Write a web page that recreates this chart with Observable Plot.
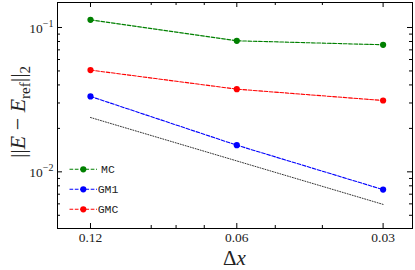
<!DOCTYPE html>
<html><head><meta charset="utf-8">
<script src="https://cdn.jsdelivr.net/npm/d3@7"></script>
<script src="https://cdn.jsdelivr.net/npm/@observablehq/plot@0.6"></script>
<style>body{margin:0;background:#fff} #chart{position:relative;width:415px;height:270px}</style>
</head><body><div id="chart"></div>
<script>
const dxValues = [0.12, 0.06, 0.03];
const mcErr = [0.113, 0.0809, 0.0759];
const gm1Err = [0.0333, 0.0153, 0.00753];
const gmcErr = [0.0507, 0.0374, 0.0312];
const refDx = [0.12, 0.03];
const refErr = [0.0238, 0.00595];
const seriesNames = ["MC", "GM1", "GMC"];
const seriesColors = ["#008000", "#0000ff", "#ff0000"];
const xMajorTicks = [0.12, 0.06, 0.03];
const xTickLabels = ["0.12", "0.06", "0.03"];
const xMinorTicks = [0.09, 0.08, 0.07, 0.05, 0.04];
const yMajorTicks = [0.01, 0.1];
const yTickExponents = ["\u22122", "\u22121"];
const yMinorTicks = [0.005, 0.006, 0.007, 0.008, 0.009, 0.02, 0.03, 0.04, 0.05, 0.06, 0.07, 0.08, 0.09];

const W = 415, H = 270, mL = 57, mR = 3, mT = 2, mB = 42;
const pw = W - mL - mR, ph = H - mT - mB;
const maj = 5, mnr = 3;

const rows = [];
[mcErr, gm1Err, gmcErr].forEach((arr, i) =>
  arr.forEach((v, j) => rows.push({series: seriesNames[i], dx: dxValues[j], err: v})));
const refRows = refDx.map((d, i) => ({dx: d, err: refErr[i]}));

const serif = "Liberation Serif";
const plot = Plot.plot({
  width: W, height: H,
  marginLeft: mL, marginRight: mR, marginTop: mT, marginBottom: mB,
  style: {fontFamily: serif, fontSize: "13.5px", color: "#222", background: "white"},
  x: {type: "log", domain: [0.1403, 0.0261], axis: null},
  y: {type: "log", domain: [0.00405, 0.149], axis: null},
  color: {domain: seriesNames, range: seriesColors},
  marks: [
    Plot.line(refRows, {x: "dx", y: "err", stroke: "black", strokeWidth: 0.8, strokeDasharray: "1,1.6"}),
    Plot.line(rows, {x: "dx", y: "err", z: "series", stroke: "series", strokeWidth: 1.1, strokeDasharray: "3.7,1.6"}),
    Plot.dot(rows, {x: "dx", y: "err", fill: "series", r: 3.1}),
    Plot.tickY(yMajorTicks, {y: d => d, insetRight: pw - maj, stroke: "black"}),
    Plot.tickY(yMajorTicks, {y: d => d, insetLeft: pw - maj, stroke: "black"}),
    Plot.tickY(yMinorTicks, {y: d => d, insetRight: pw - mnr, stroke: "black"}),
    Plot.tickY(yMinorTicks, {y: d => d, insetLeft: pw - mnr, stroke: "black"}),
    Plot.tickX(xMajorTicks, {x: d => d, insetTop: ph - maj, stroke: "black"}),
    Plot.tickX(xMajorTicks, {x: d => d, insetBottom: ph - maj, stroke: "black"}),
    Plot.tickX(xMinorTicks, {x: d => d, insetTop: ph - mnr, stroke: "black"}),
    Plot.tickX(xMinorTicks, {x: d => d, insetBottom: ph - mnr, stroke: "black"}),
    Plot.text(yMajorTicks, {y: d => d, frameAnchor: "left", textAnchor: "end", dx: -4, dy: 1,
      text: (d, i) => "10|" + yTickExponents[i], fontFamily: serif, fontSize: 13.5, fill: "#222"}),
    Plot.text(xMajorTicks, {x: d => d, frameAnchor: "bottom", lineAnchor: "top", dy: 4,
      text: (d, i) => xTickLabels[i], fontFamily: serif, fontSize: 13.5, fill: "#222"}),
    Plot.frame({stroke: "black", strokeWidth: 1})
  ]
});
document.getElementById("chart").appendChild(plot);

const svg = d3.select(plot);
// superscript exponents on y tick labels
svg.selectAll("text").each(function() {
  const t = d3.select(this);
  const s = t.text();
  if (!s.startsWith("10|")) return;
  const [base, exp] = s.split("|");
  t.text(null);
  t.append("tspan").text(base);
  t.append("tspan").attr("dy", "-6").attr("font-size", "10").text(exp);
});

// y axis label
const yl = svg.append("text")
  .attr("transform", `translate(25, ${mT + ph / 2 - 3}) rotate(-90)`)
  .attr("text-anchor", "middle").attr("fill", "#222")
  .style("font-family", serif).style("font-size", "22px");
yl.append("tspan").text("||");
yl.append("tspan").attr("font-style", "italic").text("E");
yl.append("tspan").text(" \u2212 ");
yl.append("tspan").attr("font-style", "italic").text("E");
yl.append("tspan").attr("font-size", "15").attr("dy", "5").text("ref");
yl.append("tspan").attr("dy", "-5").text("||");
yl.append("tspan").attr("font-size", "15").attr("dy", "5").text("2");

// x axis label
const xl = svg.append("text")
  .attr("x", mL + pw / 2).attr("y", 265)
  .attr("text-anchor", "middle").attr("fill", "#222")
  .style("font-family", serif).style("font-size", "21px");
xl.append("tspan").text("\u0394");
xl.append("tspan").attr("font-style", "italic").text("x");

// legend
const lg = svg.append("g");
seriesNames.forEach((name, i) => {
  const y = 169.3 + 20 * i;
  lg.append("line").attr("x1", 69.5).attr("x2", 97).attr("y1", y).attr("y2", y)
    .attr("stroke", seriesColors[i]).attr("stroke-width", 1.1).attr("stroke-dasharray", "3.7,1.6");
  lg.append("circle").attr("cx", 83.3).attr("cy", y).attr("r", 3.1).attr("fill", seriesColors[i]);
  lg.append("text").attr("x", 108).attr("y", y + 4).attr("fill", "#222")
    .style("font-family", "Liberation Mono").style("font-size", "11.5px")
    .text(name);
});
</script>
</body></html>
